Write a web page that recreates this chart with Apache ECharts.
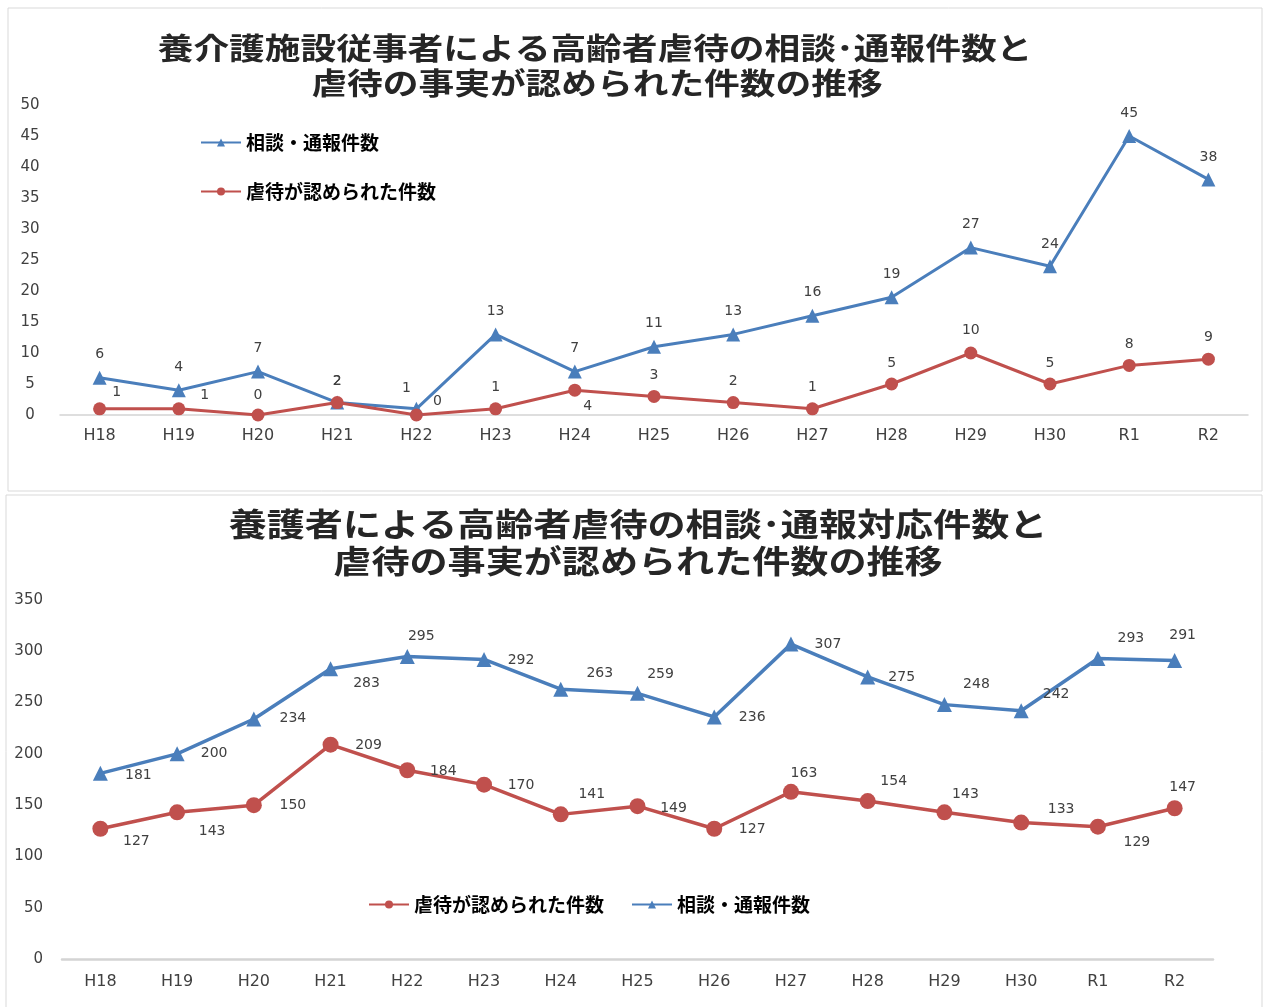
<!DOCTYPE html>
<html lang="ja">
<head>
<meta charset="utf-8">
<title>高齢者虐待の相談・通報件数の推移</title>
<script src="https://cdn.jsdelivr.net/npm/echarts@6.0.0/dist/echarts.min.js"></script>
<style>
  html, body { margin: 0; padding: 0; background: #fff; }
  #chart { width: 1268px; height: 1007px; }
</style>
</head>
<body>
<div id="chart"></div>
<script>
// 年度
const categories = ['H18', 'H19', 'H20', 'H21', 'H22', 'H23', 'H24', 'H25', 'H26', 'H27', 'H28', 'H29', 'H30', 'R1', 'R2'];

// 養介護施設従事者
const facilityConsult = [6, 4, 7, 2, 1, 13, 7, 11, 13, 16, 19, 27, 24, 45, 38];
const facilityConfirmed = [1, 1, 0, 2, 0, 1, 4, 3, 2, 1, 5, 10, 5, 8, 9];

// 養護者
const homeConsult = [181, 200, 234, 283, 295, 292, 263, 259, 236, 307, 275, 248, 242, 293, 291];
const homeConfirmed = [127, 143, 150, 209, 184, 170, 141, 149, 127, 163, 154, 143, 133, 129, 147];

const nameConsult = '相談・通報件数';
const nameConfirmed = '虐待が認められた件数';

window.addEventListener('load', () => {
  const chart = echarts.init(document.getElementById('chart'));

  const BLUE = '#4a7ebb';
  const RED = '#c0504d';
  const CJK = '"Noto Sans CJK JP", sans-serif';
  const LATIN = '"DejaVu Sans", sans-serif';

  // ラベルの位置ずれ (dx, dy)
  const offTopBlue = [[0,-23],[0,-23],[0,-23],[0,-21],[-10,-20],[0,-23],[0,-23],[0,-23],[0,-23],[0,-23],[0,-23],[0,-23],[0,-22],[0,-23],[0,-22]];
  const offTopRed = [[17,-16],[26,-13],[0,-20],[0,-21],[21,-14],[0,-21],[13,16],[0,-21],[0,-21],[0,-21],[0,-21],[0,-23],[0,-21],[0,-21],[0,-22]];
  const offBotBlue = [[38,2],[37,0],[39,-1],[36,15],[14,-20],[37,1],[39,-16],[23,-19],[38,0],[37,0],[34,0],[32,-20],[35,-16],[33,-20],[8,-25]];
  const offBotRed = [[36,13],[35,19],[39,0],[38,1],[36,1],[37,1],[31,-20],[36,2],[38,1],[13,-18],[26,-20],[21,-18],[40,-13],[39,16],[8,-21]];

  const withLabels = (vals, offs) => vals.map((v, i) => ({ value: v, label: { offset: offs[i] } }));

  const labelStyle = { show: true, position: 'inside', color: '#404040', fontSize: 14, fontFamily: LATIN };

  const xAxisBase = (gridIndex, lineWidth, margin) => ({
    type: 'category', gridIndex, data: categories, boundaryGap: true,
    axisTick: { show: false },
    axisLine: { lineStyle: { color: '#d4d4d4', width: lineWidth } },
    axisLabel: { color: '#404040', fontSize: 16, margin, fontFamily: LATIN }
  });

  const titleText = (text, x, y, size, sx) => ({
    type: 'text', x, y, scaleX: sx, silent: true,
    style: { text, font: 'bold ' + size + 'px ' + CJK, fill: '#262626', textAlign: 'center', textVerticalAlign: 'middle' }
  });

  const legendText = { color: '#000', fontSize: 19, fontWeight: 'bold', fontFamily: CJK };

  const option = {
    animation: false,
    graphic: [
      { type: 'rect', shape: { x: 8, y: 8, width: 1254, height: 483 }, style: { fill: 'none', stroke: '#d9d9d9', lineWidth: 1 }, silent: true },
      { type: 'rect', shape: { x: 6, y: 495, width: 1256, height: 520 }, style: { fill: 'none', stroke: '#d9d9d9', lineWidth: 1 }, silent: true },
      titleText('養介護施設従事者による高齢者虐待の相談･通報件数と', 595, 48, 30, 1.19),
      titleText('虐待の事実が認められた件数の推移', 597, 83, 30, 1.19),
      titleText('養護者による高齢者虐待の相談･通報対応件数と', 638, 524, 32, 1.19),
      titleText('虐待の事実が認められた件数の推移', 638, 561, 32, 1.19)
    ],
    legend: [
      {
        orient: 'vertical', left: 195, top: 128, itemGap: 30,
        itemWidth: 40, itemHeight: 10,
        data: [nameConsult, nameConfirmed],
        textStyle: legendText
      },
      {
        orient: 'horizontal', left: 363, top: 890, itemGap: 27,
        itemWidth: 40, itemHeight: 10,
        data: [nameConfirmed, nameConsult],
        textStyle: legendText
      }
    ],
    grid: [
      { left: 60, right: 20, top: 105, bottom: 592 },
      { left: 62, right: 55, top: 600, bottom: 48 }
    ],
    xAxis: [xAxisBase(0, 1.5, 13), xAxisBase(1, 2.5, 15)],
    yAxis: [
      {
        type: 'value', gridIndex: 0, min: 0, max: 50, interval: 5,
        axisLine: { show: false }, axisTick: { show: false }, splitLine: { show: false },
        axisLabel: { color: '#404040', fontSize: 15, align: 'center', margin: 30, fontFamily: LATIN }
      },
      {
        type: 'value', gridIndex: 1, min: 0, max: 350, interval: 50,
        axisLine: { show: false }, axisTick: { show: false }, splitLine: { show: false },
        axisLabel: { color: '#404040', fontSize: 15, margin: 19, fontFamily: LATIN }
      }
    ],
    series: [
      {
        name: nameConsult, type: 'line', xAxisIndex: 0, yAxisIndex: 0,
        data: withLabels(facilityConsult, offTopBlue),
        color: BLUE, symbol: 'triangle', symbolSize: 14,
        lineStyle: { width: 3, color: BLUE }, itemStyle: { color: BLUE },
        label: labelStyle
      },
      {
        name: nameConfirmed, type: 'line', xAxisIndex: 0, yAxisIndex: 0,
        data: withLabels(facilityConfirmed, offTopRed),
        color: RED, symbol: 'circle', symbolSize: 13,
        lineStyle: { width: 3, color: RED }, itemStyle: { color: RED },
        label: labelStyle
      },
      {
        name: nameConsult, type: 'line', xAxisIndex: 1, yAxisIndex: 1,
        data: withLabels(homeConsult, offBotBlue),
        color: BLUE, symbol: 'triangle', symbolSize: 15,
        lineStyle: { width: 3.5, color: BLUE }, itemStyle: { color: BLUE },
        label: labelStyle
      },
      {
        name: nameConfirmed, type: 'line', xAxisIndex: 1, yAxisIndex: 1,
        data: withLabels(homeConfirmed, offBotRed),
        color: RED, symbol: 'circle', symbolSize: 16,
        lineStyle: { width: 3.5, color: RED }, itemStyle: { color: RED },
        label: labelStyle
      }
    ]
  };

  chart.setOption(option);

  window.addEventListener('resize', () => {
    chart.resize();
  });
});
</script>
</body>
</html>
